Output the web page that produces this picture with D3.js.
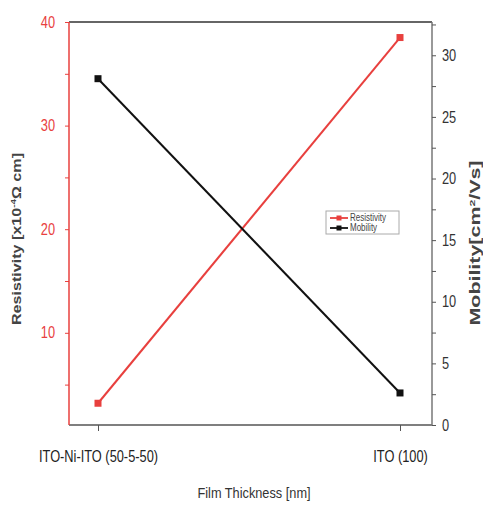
<!DOCTYPE html>
<html>
<head>
<meta charset="utf-8">
<script src="https://cdn.jsdelivr.net/npm/d3@7"></script>
<style>
  body { margin: 0; background: #fff; }
  text { font-family: "Liberation Sans", Arial, sans-serif; }
</style>
</head>
<body>
<div id="chart"></div>
<script>
// Data
const categories = ["ITO-Ni-ITO (50-5-50)", "ITO (100)"];
const resistivity = [3.2, 38.5];
const mobility = [28.1, 2.6];
const leftTicks = [10, 20, 30, 40];
const rightTicks = [0, 5, 10, 15, 20, 25, 30];

const width = 483, height = 505,
  margin = { left: 69, right: 51, top: 22, bottom: 80 };
const red = "#e8403e";

const svg = d3.select("#chart").append("svg")
  .attr("width", width)
  .attr("height", height);

const x0 = margin.left, x1 = width - margin.right,
  yTop = margin.top, yBot = height - margin.bottom;

const x = d3.scalePoint()
  .domain(categories)
  .range([x0 + 29, x1 - 32]);

const yL = d3.scaleLinear().domain([1.1, 40]).range([yBot, yTop]);
const yR = d3.scaleLinear().domain([0, 32.7]).range([yBot, yTop]);

// squeeze text horizontally, like the narrow font of the original
function condense(sel, k) {
  sel.each(function () {
    const w = this.getComputedTextLength();
    if (w > 0) d3.select(this).attr("textLength", w * k).attr("lengthAdjust", "spacingAndGlyphs");
  });
}

// frame top
svg.append("line").attr("x1", x0).attr("x2", x1).attr("y1", yTop).attr("y2", yTop)
  .attr("stroke", "#333").attr("stroke-width", 1.5);

// bottom axis
const gx = svg.append("g").attr("transform", "translate(0," + yBot + ")")
  .call(d3.axisBottom(x).tickSize(6).tickSizeOuter(0).tickPadding(20));
gx.select(".domain").attr("d", "M" + x0 + ",0H" + x1).attr("stroke", "#555").attr("stroke-width", 1.5);
gx.selectAll(".tick line").attr("stroke", "#555");
gx.selectAll("text").attr("font-size", 16).attr("fill", "#222").call(condense, 0.8);

// left axis (red)
const gl = svg.append("g").attr("transform", "translate(" + x0 + ",0)")
  .call(d3.axisLeft(yL).tickValues(d3.range(5, 41, 5)).tickSize(4).tickSizeOuter(0)
    .tickFormat(d => leftTicks.includes(d) ? d : ""));
gl.select(".domain").attr("d", "M0," + yTop + "V" + yBot).attr("stroke", red).attr("stroke-width", 1.5);
gl.selectAll(".tick line").attr("stroke", red);
gl.selectAll("text").attr("font-size", 16).attr("fill", red).attr("x", -14).call(condense, 0.8);

// right axis
const gr = svg.append("g").attr("transform", "translate(" + x1 + ",0)")
  .call(d3.axisRight(yR).tickValues(d3.range(0, 32.6, 2.5)).tickSize(4).tickSizeOuter(0)
    .tickFormat(d => rightTicks.includes(d) ? d : ""));
gr.select(".domain").attr("d", "M0," + yTop + "V" + yBot).attr("stroke", "#777").attr("stroke-width", 1.5);
gr.selectAll(".tick line").attr("stroke", "#555");
gr.selectAll("text").attr("font-size", 16).attr("fill", "#333").attr("x", 10).call(condense, 0.8);

// series
const series = [
  { name: "Resistivity", values: resistivity, y: yL, color: red },
  { name: "Mobility", values: mobility, y: yR, color: "#111" }
];

series.forEach(s => {
  const pts = categories.map((c, i) => [x(c), s.y(s.values[i])]);
  svg.append("path").attr("d", d3.line()(pts))
    .attr("fill", "none").attr("stroke", s.color).attr("stroke-width", 2);
  svg.selectAll(null).data(pts).enter().append("rect")
    .attr("x", d => d[0] - 3.5).attr("y", d => d[1] - 3.5)
    .attr("width", 7).attr("height", 7).attr("fill", s.color);
});

// legend
const lg = svg.append("g").attr("transform", "translate(326,211)");
lg.append("rect").attr("width", 73).attr("height", 23)
  .attr("fill", "#fff").attr("stroke", "#aaa").attr("stroke-width", 1);
series.forEach((s, i) => {
  const yy = 7 + i * 10;
  lg.append("line").attr("x1", 4).attr("x2", 22).attr("y1", yy).attr("y2", yy)
    .attr("stroke", s.color).attr("stroke-width", 1.8);
  lg.append("rect").attr("x", 10.5).attr("y", yy - 2.5).attr("width", 5).attr("height", 5).attr("fill", s.color);
  lg.append("text").attr("x", 24).attr("y", yy + 3).attr("font-size", 10).attr("fill", "#444")
    .text(s.name).call(condense, 0.8);
});

// axis titles
svg.append("text")
  .attr("transform", "translate(21,239) rotate(-90)")
  .attr("text-anchor", "middle").attr("font-size", 13).attr("font-weight", "bold").attr("fill", "#444")
  .attr("textLength", 172).attr("lengthAdjust", "spacingAndGlyphs")
  .html('Resistivity [x10<tspan dy="-5" font-size="8">-4</tspan><tspan dy="5">Ω cm]</tspan>');

svg.append("text")
  .attr("transform", "translate(480,243) rotate(-90)")
  .attr("text-anchor", "middle").attr("font-size", 14).attr("font-weight", "bold").attr("fill", "#444")
  .attr("textLength", 165).attr("lengthAdjust", "spacingAndGlyphs")
  .html('Mobility[cm<tspan dy="-5" font-size="8">2</tspan><tspan dy="5">/Vs]</tspan>');

svg.append("text")
  .attr("x", 254).attr("y", 498)
  .attr("text-anchor", "middle").attr("font-size", 15).attr("fill", "#333")
  .text("Film Thickness [nm]").call(condense, 0.85);
</script>
</body>
</html>
